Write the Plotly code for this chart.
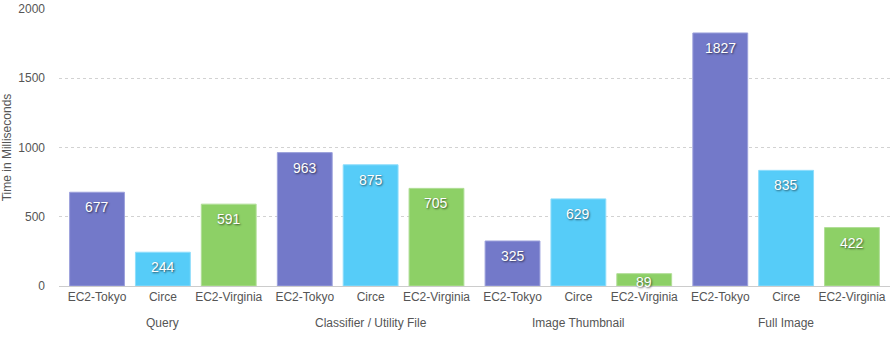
import plotly.graph_objects as go

groups = ["Query", "Classifier / Utility File", "Image Thumbnail", "Full Image"]
series = ["EC2-Tokyo", "Circe", "EC2-Virginia"]
tokyo = [677, 963, 325, 1827]
circe = [244, 875, 629, 835]
virginia = [591, 705, 89, 422]
values = [tokyo, circe, virginia]
colors = ["#7379C9", "#56CCF8", "#8DD066"]
edge = ["#9CA1DC", "#8EDDFB", "#B1DE97"]

slot = 0.317
bw = 0.264
ymax = 2000
label_floor = 135  # labels never drop below the axis

fig = go.Figure()
tickvals, ticktext = [], []
for k, (name, vals) in enumerate(zip(series, values)):
    xs = [g + (k - 1) * slot for g in range(len(groups))]
    tickvals += xs
    ticktext += [name] * len(xs)
    fig.add_trace(go.Bar(
        x=xs, y=vals, width=bw, name=name,
        marker=dict(color=colors[k], line=dict(color=edge[k], width=1)),
        hoverinfo="skip",
    ))
    for x, v in zip(xs, vals):
        fig.add_annotation(
            x=x, y=max(v, label_floor), xref="x", yref="y", text=str(v), showarrow=False,
            yanchor="top", yshift=-5,
            font=dict(color="white", size=14, family="Liberation Sans, Arial",
                      shadow="1px 1px 2px rgba(0,0,0,0.6)"),
        )

for g, gname in enumerate(groups):
    fig.add_annotation(x=g, y=0, xref="x", yref="y", text=gname, showarrow=False,
                       yshift=-37, font=dict(size=12, color="#555", family="Liberation Sans, Arial"))

fig.update_layout(
    width=894, height=362,
    margin=dict(l=59, r=4, t=9, b=76, autoexpand=False),
    plot_bgcolor="white", paper_bgcolor="white",
    showlegend=False, barmode="overlay",
    font=dict(family="Liberation Sans, Arial", color="#555", size=12),
    xaxis=dict(range=[-0.5, 3.5], tickmode="array", tickvals=tickvals, ticktext=ticktext,
               showgrid=False, zeroline=False, showline=True, linecolor="#cccccc",
               ticks="", automargin=False, tickfont=dict(size=12, color="#555")),
    yaxis=dict(range=[0, ymax], tickvals=[0, 500, 1000, 1500, 2000],
               showgrid=True, gridcolor="#d2d2d2", griddash="dot", gridwidth=1,
               zeroline=False, ticks="", ticklabelstandoff=13, automargin=False,
               tickfont=dict(size=12, color="#555"),
               title=dict(text="Time in Milliseconds", font=dict(size=12, color="#555"), standoff=8)),
)

fig.write_html("out.html")
